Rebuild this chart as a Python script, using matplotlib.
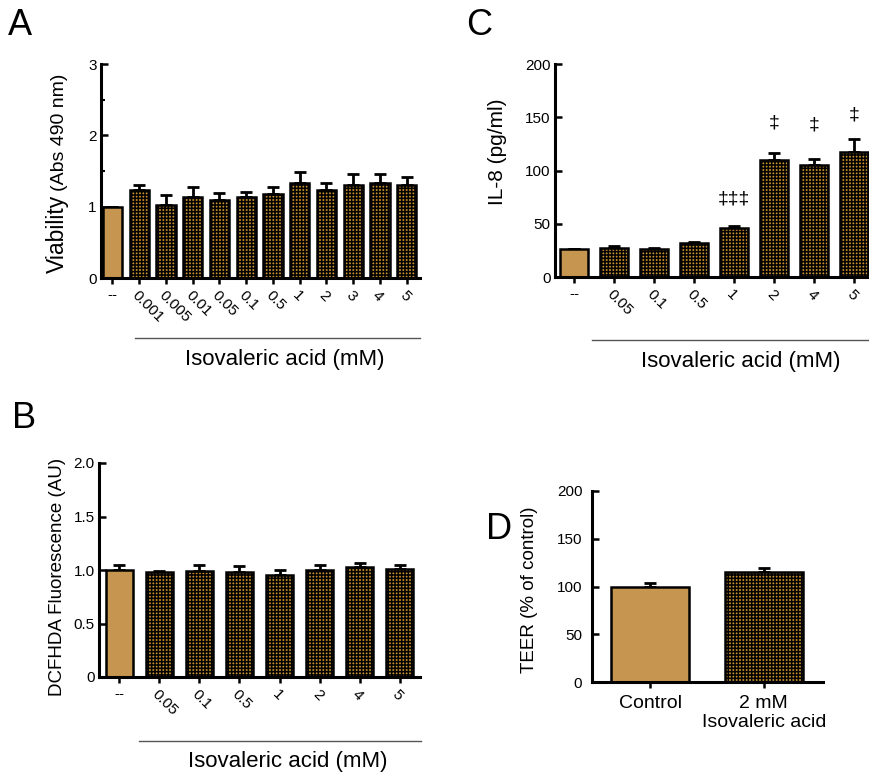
import matplotlib
matplotlib.use('Agg')
import matplotlib.pyplot as plt
import numpy as np
from matplotlib.lines import Line2D

plt.rcParams['font.family'] = ['Liberation Sans', 'DejaVu Sans']
plt.rcParams['hatch.linewidth'] = 1.1
plt.rcParams['hatch.color'] = 'black'

W, H = 869, 780

# ---------------- data ----------------
# Panel A: viability
a_labels = ['--', '0.001', '0.005', '0.01', '0.05', '0.1', '0.5', '1', '2', '3', '4', '5']
a_means = [1.00, 1.24, 1.03, 1.14, 1.10, 1.14, 1.18, 1.33, 1.24, 1.30, 1.33, 1.30]
a_errs = [0.00, 0.07, 0.13, 0.13, 0.09, 0.07, 0.09, 0.16, 0.09, 0.16, 0.13, 0.11]

# Panel B: DCFHDA fluorescence
b_labels = ['--', '0.05', '0.1', '0.5', '1', '2', '4', '5']
b_means = [1.00, 0.98, 0.99, 0.98, 0.955, 1.00, 1.025, 1.01]
b_errs = [0.045, 0.01, 0.055, 0.06, 0.045, 0.045, 0.045, 0.037]

# Panel C: IL-8
c_labels = ['--', '0.05', '0.1', '0.5', '1', '2', '4', '5']
c_means = [26, 27.2, 26, 31.6, 46.3, 109.5, 104.8, 117]
c_errs = [0, 1.6, 1.5, 1.0, 1.3, 7.2, 6.2, 12.6]
c_sig = ['', '', '', '', '‡‡‡', '‡', '‡', '‡']
c_sig_y = [0, 0, 0, 0, 73, 145, 143, 152]

# Panel D: TEER
d_labels = ['Control', '2 mM\nIsovaleric acid']
d_means = [99, 115]
d_errs = [5, 4.5]

CTRL = '#C6954F'
TREAT = '#C8902E'

fig = plt.figure(figsize=(W / 100, H / 100), dpi=100)


def fx(x):
    return x / W


def fy(y):
    return 1 - y / H


def add_ax(l, t, r, b):
    return fig.add_axes([l / W, 1 - b / H, (r - l) / W, (b - t) / H])


def draw_panel(ax, means, errs, labels, width, ylim, yticks, yticklabels,
               ypad=3, xfs=11, rotate=True):
    n = len(means)
    x = np.arange(n)
    means = np.asarray(means, float)
    errs = np.asarray(errs, float)
    ax.errorbar(x, means, yerr=[np.zeros(n), errs], fmt='none', ecolor='black',
                elinewidth=2, capsize=4.5, capthick=2, zorder=1)
    ax.bar(x[:1], means[:1], width, color=CTRL, edgecolor='black', linewidth=1.8, zorder=2)
    ax.bar(x[1:], means[1:], width, color=TREAT, edgecolor='black', hatch='+++++',
           linewidth=1.8, zorder=2)
    ax.set_ylim(*ylim)
    ax.set_yticks(yticks)
    ax.set_yticklabels(yticklabels)
    for s in ['top', 'right']:
        ax.spines[s].set_visible(False)
    for s in ['left', 'bottom']:
        ax.spines[s].set_linewidth(2.2)
    ax.tick_params(axis='y', direction='in', length=5, width=1.8, labelsize=11, pad=ypad)
    ax.tick_params(axis='x', direction='out', length=4, width=1.8, labelsize=xfs, pad=3)
    ax.set_xticks(x)
    tls = ax.set_xticklabels(labels)
    for i, t in enumerate(tls):
        if rotate and i > 0:
            t.set_rotation(-45)
            t.set_rotation_mode('anchor')
            t.set_ha('left')
            t.set_va('top')
        else:
            t.set_ha('center')
            t.set_va('top')
    return x


# Panel A
axA = add_ax(101, 64, 420, 278)
xA = draw_panel(axA, a_means, a_errs, a_labels, 0.72, (0, 3), [0, 1, 2, 3],
                ['0', '1', '2', '3'])
axA.set_xlim(-0.43, 11.5)
axA.set_yticks([0.5, 1.5, 2.5], minor=True)
axA.tick_params(axis='y', which='minor', direction='in', length=3, width=1.5)

# Panel C
axC = add_ax(555, 64, 869, 277)
xC = draw_panel(axC, c_means, c_errs, c_labels, 0.68, (0, 200), [0, 50, 100, 150, 200],
                ['0', '50', '100', '150', '200'])
axC.set_xlim(-0.475, 7.375)
for xi, s, yv in zip(xC, c_sig, c_sig_y):
    if s:
        axC.text(xi, yv, s, ha='center', va='center', fontsize=14)

# Panel B
axB = add_ax(99, 463, 420, 677)
xB = draw_panel(axB, b_means, b_errs, b_labels, 0.68, (0, 2), [0, 0.5, 1.0, 1.5, 2.0],
                ['0', '0.5', '1.0', '1.5', '2.0'])
axB.set_xlim(-0.51, 7.51)

# Panel D
axD = add_ax(592, 491, 823, 682)
xD = draw_panel(axD, d_means, d_errs, d_labels, 0.69, (0, 200), [0, 50, 100, 150, 200],
                ['0', '50', '100', '150', '200'], ypad=7, xfs=14, rotate=False)
axD.set_xlim(-0.51, 1.52)
axD.tick_params(axis='x', pad=5)

# y labels
fig.text(fx(64), fy(273), 'Viability', rotation=90, rotation_mode='anchor',
         ha='left', va='baseline', fontsize=16.5)
fig.text(fx(64), fy(191), '(Abs 490 nm)', rotation=90, rotation_mode='anchor',
         ha='left', va='baseline', fontsize=14)
fig.text(fx(497), fy(152), 'IL-8 (pg/ml)', rotation=90, ha='center', va='center', fontsize=15)
fig.text(fx(58), fy(577), 'DCFHDA Fluorescence (AU)', rotation=90, ha='center', va='center',
         fontsize=13.5)
fig.text(fx(529), fy(590), 'TEER (% of control)', rotation=90, ha='center', va='center',
         fontsize=13.5)

# group underlines and labels
for (x0, x1, yl, xc, yt) in [(135, 420, 338, 285, 360),
                              (592, 869, 340, 741, 362),
                              (139, 421, 741, 288, 762)]:
    fig.add_artist(Line2D([fx(x0), fx(x1)], [fy(yl), fy(yl)], color='#555555', lw=1.0))
    fig.text(fx(xc), fy(yt), 'Isovaleric acid (mM)', ha='center', va='center', fontsize=16)

# panel letters
for (lx, ly, s) in [(8, 8, 'A'), (466, 8, 'C'), (12, 401, 'B'), (486, 512, 'D')]:
    fig.text(fx(lx), fy(ly), s, ha='left', va='top', fontsize=26)

fig.savefig('out.png', dpi=100)
